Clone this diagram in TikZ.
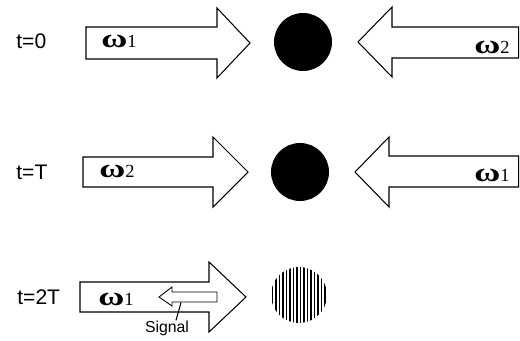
\documentclass[tikz,border=0pt]{standalone}
\usepackage{fontspec}
\setmainfont{Liberation Sans}
\newfontfamily\omfont{Liberation Serif}
\newcommand{\om}[1]{{\omfont\scalebox{1.35}[1]{\bfseries ω}{\fontsize{10.5}{11}\selectfont #1}}}

\begin{document}
\begin{tikzpicture}[x=0.02cm,y=-0.02cm,
    fat/.style={draw=black,line width=0.6pt,fill=white,line join=miter},
    tlabel/.style={anchor=west,inner sep=0pt,font=\fontsize{12}{14}\selectfont},
    freq/.style={anchor=base west,inner sep=0pt,font=\fontsize{15}{17}\selectfont},
    ball/.style={circle,fill=black,inner sep=0pt,minimum size=1.16cm}]
         \useasboundingbox (0,0) rectangle (520,341);
         % time labels
         \node[tlabel] (t0) at (16, 41) {t=0};
         \node[tlabel] (tT) at (16, 172) {t=T};
         \node[tlabel] (t2T) at (17, 297) {t=2T};
         % t=0
         \draw[fat] (86,27) -- (217,27) -- (217,8) -- (250,43) -- (217,78) -- (217,59) -- (86,59) -- cycle;
         \node[ball] (ball0) at (303, 42) {};
         \draw[fat] (518.7,27) -- (392,27) -- (392,7) -- (358,42) -- (392,77) -- (392,58) -- (518.7,58) -- cycle;
         \node[freq] (w1a) at (101, 48) {\om{1}};
         \node[freq] (w2a) at (474, 54) {\om{2}};
         % t=T
         \draw[fat] (83,157) -- (213,157) -- (213,137) -- (248,172) -- (213,207) -- (213,187) -- (83,187) -- cycle;
         \node[ball] (ballT) at (300, 172) {};
         \draw[fat] (518.7,156) -- (389,156) -- (389,137) -- (355,172) -- (389,207) -- (389,187) -- (518.7,187) -- cycle;
         \node[freq] (w2b) at (99, 177) {\om{2}};
         \node[freq] (w1b) at (474, 181) {\om{1}};
         % t=2T
         \draw[fat] (80,282) -- (209,282) -- (209,262) -- (246,297) -- (209,332) -- (209,312) -- (80,312) -- cycle;
         \node[freq] (w1c) at (98, 305) {\om{1}};
         \draw[fat,line width=0.5pt] (217,292) -- (172,292) -- (172,287) -- (159,297) -- (172,306) -- (172,302) -- (217,302) -- cycle;
         \coordinate (sigfoot) at (181, 302.5);
         \node[inner sep=0pt,font=\fontsize{9}{10}\selectfont] (sig) at (167, 328) {Signal};
         \draw[line width=0.6pt] (sig.north -| 176,0) -- (sigfoot);
         \node[circle,inner sep=0pt,minimum size=1.12cm] (ball2T) at (299, 295) {};
         \begin{scope}
           \clip (ball2T.center) circle (28);
           \foreach \k in {0,...,15}
             \draw[line width=0.034cm] (272.5+3.5*\k, 265) -- (272.5+3.5*\k, 325);
         \end{scope}
\end{tikzpicture}
\end{document}
